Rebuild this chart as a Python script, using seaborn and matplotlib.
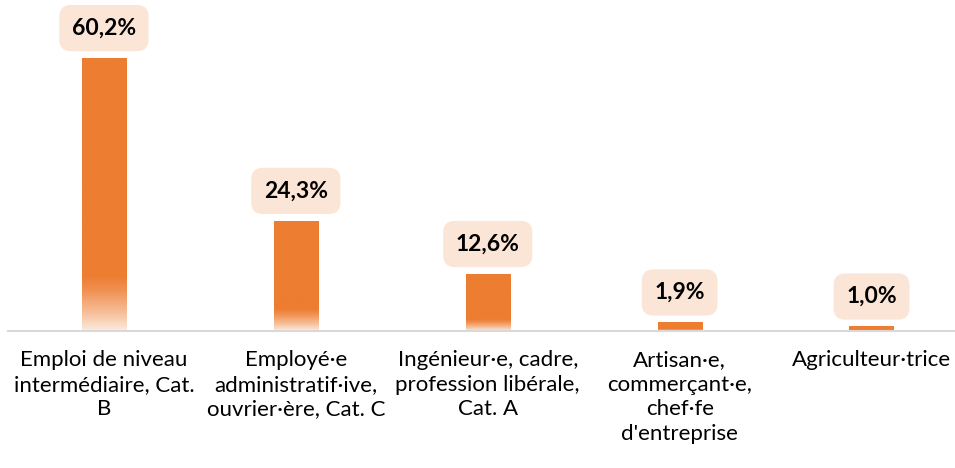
import matplotlib
matplotlib.use("Agg")
import matplotlib.pyplot as plt
import seaborn as sns
import pandas as pd
import numpy as np
from matplotlib.colors import LinearSegmentedColormap

categories = ["Emploi de niveau\nintermédiaire, Cat.\nB",
              "Employé·e\nadministratif·ive,\nouvrier·ère, Cat. C",
              "Ingénieur·e, cadre,\nprofession libérale,\nCat. A",
              "Artisan·e,\ncommerçant·e,\nchef·fe\nd'entreprise",
              "Agriculteur·trice"]
values = [60.2, 24.3, 12.6, 1.9, 1.0]
labels = ["60,2%", "24,3%", "12,6%", "1,9%", "1,0%"]

orange = "#ED7D31"
sns.set_theme(style="white")
plt.rcParams['font.family'] = ['Lato', 'DejaVu Sans']

df = pd.DataFrame({"cat": categories, "val": values})

fig = plt.figure(figsize=(9.55, 4.68), dpi=100)
ax = fig.add_axes([8/955, 137/468, 947/955, 331/468])
sns.barplot(data=df, x="cat", y="val", color=orange, width=0.23,
            saturation=1, ax=ax)

# faded bottom of each bar
cmap = LinearSegmentedColormap.from_list(
    "fade", [(0, "#FCEBDF"), (0.06, "#F7C29E"), (0.15, "#F09050"), (0.2, orange), (1, orange)])
grad = np.linspace(0, 1, 256).reshape(-1, 1)
for p in ax.patches:
    x0, w, h = p.get_x(), p.get_width(), p.get_height()
    im = ax.imshow(grad, cmap=cmap, aspect="auto", origin="lower",
                   extent=[x0, x0 + w, 0, h], zorder=p.get_zorder() + 0.1,
                   vmin=0, vmax=1)
    im.set_clip_path(p)

ax.set_xlim(-0.5, 4.435)
ax.set_ylim(0, 73.0)
for i, (v, lab) in enumerate(zip(values, labels)):
    ax.text(i, v + 6.6, lab, ha="center", va="center", fontsize=16.5,
            fontweight="bold", color="#000000",
            bbox=dict(boxstyle="round,pad=0.55,rounding_size=0.5",
                      fc="#FBE5D6", ec="none"))

ax.set_xlabel("")
ax.set_ylabel("")
ax.set_yticks([])
ax.tick_params(axis="x", length=0, pad=14, labelsize=16, labelcolor="#000000")
for t in ax.get_xticklabels():
    t.set_linespacing(1.28)
for s in ["top", "left", "right"]:
    ax.spines[s].set_visible(False)
ax.spines["bottom"].set_color("#D9D9D9")
ax.spines["bottom"].set_linewidth(1.5)

fig.savefig("out.png", dpi=100)
